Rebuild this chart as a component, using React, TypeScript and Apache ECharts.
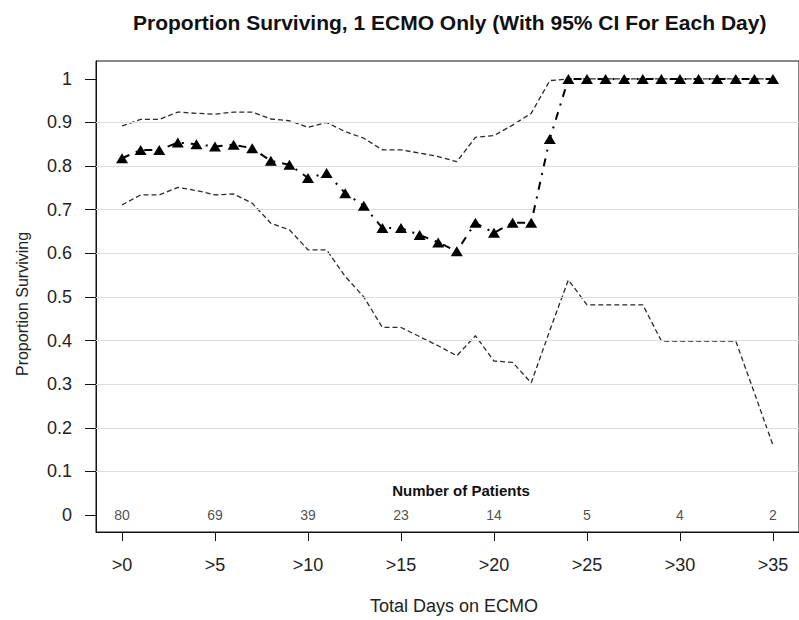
import React, { useEffect, useRef } from "react";
import * as echarts from "echarts";

const days = [0, 1, 2, 3, 4, 5, 6, 7, 8, 9, 10, 11, 12, 13, 14, 15, 16, 17, 18, 19, 20, 21, 22, 23, 24, 25, 26, 27, 28, 29, 30, 31, 32, 33, 34, 35];
const survival = [0.818, 0.837, 0.837, 0.854, 0.85, 0.845, 0.849, 0.841, 0.812, 0.803, 0.773, 0.784, 0.738, 0.709, 0.658, 0.658, 0.642, 0.625, 0.605, 0.67, 0.647, 0.67, 0.67, 0.862, 1, 1, 1, 1, 1, 1, 1, 1, 1, 1, 1, 1];
const upperCI = [0.892, 0.907, 0.907, 0.924, 0.921, 0.919, 0.924, 0.924, 0.908, 0.904, 0.889, 0.9, 0.879, 0.864, 0.837, 0.837, 0.83, 0.822, 0.81, 0.866, 0.87, 0.894, 0.921, 0.996, 1, 1, 1, 1, 1, 1, 1, 1, 1, 1, 1, 1];
const lowerCI = [0.711, 0.734, 0.734, 0.751, 0.744, 0.734, 0.736, 0.715, 0.669, 0.654, 0.608, 0.608, 0.547, 0.5, 0.43, 0.43, 0.409, 0.388, 0.365, 0.411, 0.353, 0.35, 0.303, 0.423, 0.539, 0.482, 0.482, 0.482, 0.482, 0.399, 0.399, 0.399, 0.399, 0.399, 0.28, 0.16];
const xTicks = [0, 5, 10, 15, 20, 25, 30, 35];
const patients = [80, 69, 39, 23, 14, 5, 4, 2];
const yTicks = [0, 0.1, 0.2, 0.3, 0.4, 0.5, 0.6, 0.7, 0.8, 0.9, 1];
const gridValues = [0.1, 0.2, 0.3, 0.4, 0.5, 0.6, 0.7, 0.8, 0.9];

const FONT = "'Liberation Sans', Arial, sans-serif";

export default function App() {
  const ref = useRef<HTMLDivElement>(null);
  useEffect(() => {
    if (!ref.current) return;
    const chart = echarts.init(ref.current, null, { renderer: "svg" });
    const pair = (arr: number[]) => days.map((d, i) => [d, arr[i]]);
    chart.setOption({
      animation: false,
      backgroundColor: "#ffffff",
      textStyle: { fontFamily: FONT },
      title: {
        text: "Proportion Surviving, 1 ECMO Only (With 95% CI For Each Day)",
        left: 128,
        top: 7,
        textStyle: { fontFamily: FONT, fontSize: 21, fontWeight: "bold", color: "#111" },
      },
      grid: {
        left: 96,
        top: 61,
        right: -12,
        bottom: 88,
        show: true,
        borderColor: "#111",
        borderWidth: 1,
        backgroundColor: "transparent",
      },
      xAxis: {
        type: "value",
        min: -1.4,
        max: 36.4,
        axisLine: { show: true, onZero: false, lineStyle: { color: "#111", width: 1 } },
        axisTick: { show: true, customValues: xTicks, length: 9, lineStyle: { color: "#111" } },
        axisLabel: {
          customValues: xTicks,
          formatter: (v: number) => ">" + v,
          margin: 24,
          fontSize: 18,
          color: "#222",
          fontFamily: FONT,
        },
        splitLine: { show: false },
      },
      yAxis: {
        type: "value",
        min: -0.039,
        max: 1.041,
        axisLine: { show: true, onZero: false, lineStyle: { color: "#111", width: 1 } },
        axisTick: { show: true, customValues: yTicks, length: 11, lineStyle: { color: "#111" } },
        axisLabel: {
          customValues: yTicks,
          formatter: (v: number) => String(Math.round(v * 10) / 10),
          margin: 24,
          fontSize: 18,
          color: "#222",
          fontFamily: FONT,
        },
        splitLine: { show: false },
      },
      graphic: [
        {
          type: "text",
          x: 461,
          y: 490,
          style: {
            text: "Number of Patients",
            fontFamily: FONT,
            fontSize: 15,
            fontWeight: "bold",
            fill: "#111",
            textAlign: "center",
            textVerticalAlign: "middle",
          },
        },
        {
          type: "text",
          x: 22,
          y: 304,
          rotation: Math.PI / 2,
          style: {
            text: "Proportion Surviving",
            fontFamily: FONT,
            fontSize: 16,
            fill: "#222",
            textAlign: "center",
            textVerticalAlign: "middle",
          },
        },
        {
          type: "text",
          x: 454,
          y: 606,
          style: {
            text: "Total Days on ECMO",
            fontFamily: FONT,
            fontSize: 18,
            fill: "#222",
            textAlign: "center",
            textVerticalAlign: "middle",
          },
        },
      ],
      series: [
        {
          type: "line",
          name: "grid",
          data: [],
          silent: true,
          markLine: {
            silent: true,
            symbol: "none",
            label: { show: false },
            lineStyle: { color: "#dddddd", type: "solid", width: 1 },
            data: gridValues.map((v) => ({ yAxis: v })),
          },
        },
        {
          type: "line",
          name: "Upper 95% CI",
          data: pair(upperCI),
          symbol: "none",
          lineStyle: { color: "#2a2a2a", width: 1.3, type: [5, 3] },
          z: 3,
        },
        {
          type: "line",
          name: "Lower 95% CI",
          data: pair(lowerCI),
          symbol: "none",
          lineStyle: { color: "#2a2a2a", width: 1.3, type: [5, 3] },
          z: 3,
        },
        {
          type: "line",
          name: "Proportion Surviving",
          data: pair(survival),
          symbol: "triangle",
          symbolSize: [12, 10],
          itemStyle: { color: "#000" },
          lineStyle: { color: "#000", width: 2, type: [8, 7, 2, 7] },
          z: 5,
        },
        {
          type: "scatter",
          name: "Number of Patients",
          data: xTicks.map((d, i) => [d, 0, patients[i]]),
          symbolSize: 1,
          itemStyle: { color: "rgba(0,0,0,0)" },
          label: {
            show: true,
            position: "inside",
            formatter: (p: any) => String(p.value[2]),
            fontFamily: FONT,
            fontSize: 14,
            color: "#222",
          },
          silent: true,
          z: 6,
        },
      ],
    });
    return () => chart.dispose();
  }, []);
  return (
    <div
      ref={ref}
      style={{ position: "fixed", left: 0, top: 0, width: 799, height: 620, background: "#fff" }}
    />
  );
}
